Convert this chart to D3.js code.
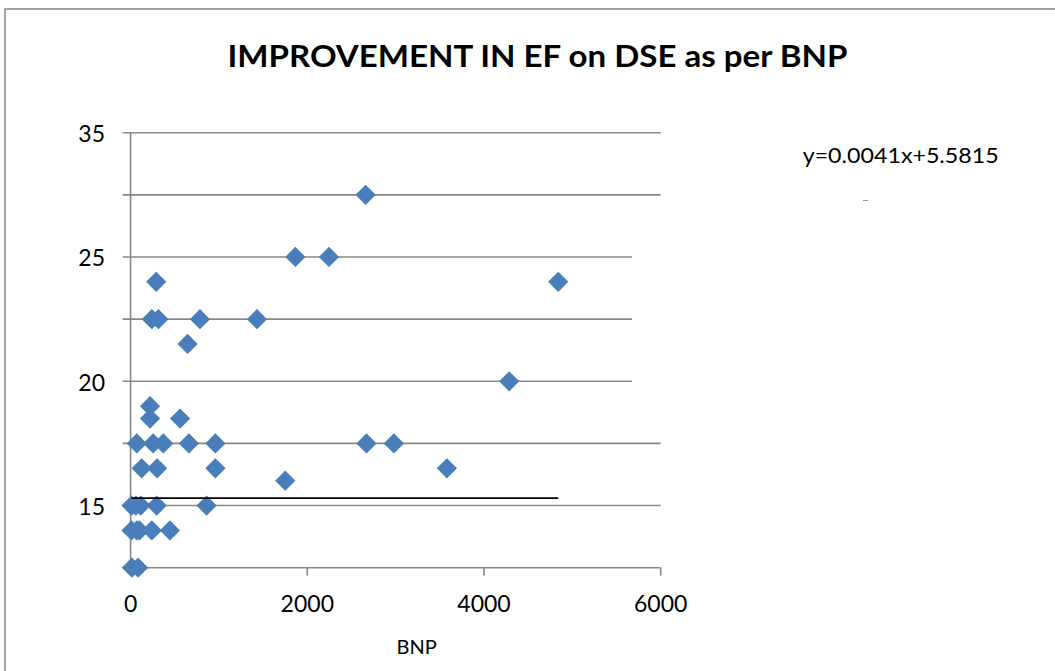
<!DOCTYPE html>
<html>
<head>
<meta charset="utf-8">
<script src="https://cdn.jsdelivr.net/npm/d3@7/dist/d3.min.js"></script>
<style>
  html, body { margin: 0; padding: 0; background: #fff; }
  svg { display: block; }
  text { font-family: Lato, "Open Sans", sans-serif; fill: #000; }
</style>
</head>
<body>
<svg id="chart" width="1055" height="671"></svg>
<script>
// BNP level of each patient and the improvement in EF seen on DSE
const bnp    = [15, 85, 10, 70, 100, 240, 445, 10, 60, 115, 295, 860, 1750,
                125, 300, 960, 3580, 70, 255, 370, 660, 960, 2670, 2980,
                220, 560, 220, 4285, 645, 240, 315, 785, 1430, 290, 4840,
                1865, 2245, 2660];
const efGain = [12.5, 12.5, 14, 14, 14, 14, 14, 15, 15, 15, 15, 15, 16,
                16.5, 16.5, 16.5, 16.5, 17.5, 17.5, 17.5, 17.5, 17.5, 17.5, 17.5,
                18.5, 18.5, 19, 20, 21.5, 22.5, 22.5, 22.5, 22.5, 24, 24,
                25, 25, 27.5];

// Axis ticks and their printed labels
const xTicks      = [0, 2000, 4000, 6000];
const yTicks      = [30, 27.5, 25, 22.5, 20, 17.5, 15];
const yTickLabels = ["35", "", "25", "", "20", "", "15"];
// How far each horizontal gridline runs along the BNP axis
const gridEnds    = [6000, 6000, 5675, 5675, 5675, 6000, 6000];

// Flat reference level drawn across the data range
const referenceLevel = 15.3;
const equationText = "y=0.0041x+5.5815";
const titleText = "IMPROVEMENT IN EF on DSE as per BNP";
const xAxisTitle = "BNP";

const svg = d3.select("#chart");
const axisColor = "#878787";
const markColor = "#4A7EBB";

const plot = { left: 130.6, right: 660.7, top: 132.7, bottom: 567.7 };

const x = d3.scaleLinear().domain([0, 6000]).range([plot.left, plot.right]);
const y = d3.scaleLinear().domain([12.5, 30]).range([plot.bottom, plot.top]);

// Outer chart frame
svg.append("rect")
  .attr("x", 5).attr("y", 9)
  .attr("width", 1060).attr("height", 680)
  .attr("fill", "none")
  .attr("stroke", axisColor)
  .attr("stroke-width", 1.5);

// Title
svg.append("text")
  .attr("x", 537.5).attr("y", 66.7)
  .attr("text-anchor", "middle")
  .attr("font-size", 30)
  .attr("font-weight", "bold")
  .attr("textLength", 620)
  .attr("lengthAdjust", "spacingAndGlyphs")
  .text(titleText);

// Horizontal gridlines with their tick stubs
svg.append("g").selectAll("line")
  .data(yTicks)
  .join("line")
  .attr("x1", plot.left - 8)
  .attr("x2", (d, i) => x(gridEnds[i]))
  .attr("y1", d => y(d)).attr("y2", d => y(d))
  .attr("stroke", axisColor)
  .attr("stroke-width", 1.6);

// Y tick labels
svg.append("g").selectAll("text")
  .data(yTicks)
  .join("text")
  .attr("x", 105)
  .attr("y", d => y(d) + 9.5)
  .attr("text-anchor", "end")
  .attr("font-size", 23)
  .text((d, i) => yTickLabels[i]);

// Value axis line
svg.append("line")
  .attr("x1", plot.left).attr("x2", plot.left)
  .attr("y1", plot.top).attr("y2", plot.bottom)
  .attr("stroke", axisColor).attr("stroke-width", 1.6);

// Category axis with downward ticks
svg.append("line")
  .attr("x1", plot.left).attr("x2", plot.right)
  .attr("y1", plot.bottom).attr("y2", plot.bottom)
  .attr("stroke", axisColor).attr("stroke-width", 1.6);

svg.append("g").selectAll("line")
  .data(xTicks)
  .join("line")
  .attr("x1", d => x(d)).attr("x2", d => x(d))
  .attr("y1", plot.bottom).attr("y2", plot.bottom + 8)
  .attr("stroke", axisColor).attr("stroke-width", 1.6);

svg.append("g").selectAll("text")
  .data(xTicks)
  .join("text")
  .attr("x", d => x(d))
  .attr("y", 612)
  .attr("text-anchor", "middle")
  .attr("font-size", 23)
  .text(d => d);

svg.append("text")
  .attr("x", 416.7).attr("y", 654)
  .attr("text-anchor", "middle")
  .attr("font-size", 20)
  .text(xAxisTitle);

// Diamond markers
const diamond = d3.symbol().type(d3.symbolSquare).size(205);
svg.append("g").selectAll("path")
  .data(bnp.map((b, i) => ({ b, e: efGain[i] })))
  .join("path")
  .attr("d", diamond)
  .attr("transform", d => `translate(${x(d.b)},${y(d.e)}) rotate(45)`)
  .attr("fill", markColor);

// Reference level across the observed BNP range
const [bMin, bMax] = d3.extent(bnp);
svg.append("line")
  .attr("x1", x(bMin)).attr("x2", x(bMax))
  .attr("y1", y(referenceLevel)).attr("y2", y(referenceLevel))
  .attr("stroke", "#000").attr("stroke-width", 1.6);

// Fitted equation
svg.append("text")
  .attr("x", 802.7).attr("y", 163)
  .attr("font-size", 22)
  .attr("textLength", 196)
  .attr("lengthAdjust", "spacingAndGlyphs")
  .text(equationText);

svg.append("line")
  .attr("x1", 863).attr("x2", 868)
  .attr("y1", 200.5).attr("y2", 200.5)
  .attr("stroke", "#999").attr("stroke-width", 1);
</script>
</body>
</html>
